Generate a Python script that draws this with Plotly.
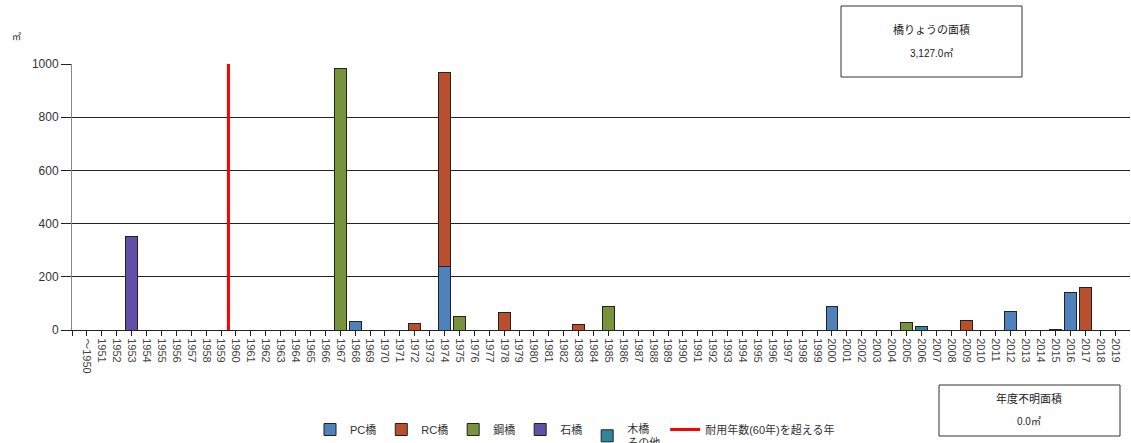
import plotly.graph_objects as go

# Fiscal-year categories
years = ["～1950"] + [str(y) for y in range(1951, 2020)]

# Deck area (㎡) by construction year and bridge type
pc_area = {"1968": 31, "1974": 237, "2000": 87, "2012": 71, "2015": 3, "2016": 140}
rc_area = {"1972": 25, "1974": 732, "1978": 67, "1983": 21, "2009": 36, "2017": 161}
steel_area = {"1967": 983, "1975": 50, "1985": 87, "2005": 30}
stone_area = {"1953": 352}
wood_other_area = {"2006": 14}

unknown_year_area = 0.0
service_life_year = "1960"  # first year past the 60-year service life

series = [
    ("PC橋", pc_area, "#4f81bd"),
    ("RC橋", rc_area, "#b8502d"),
    ("鋼橋", steel_area, "#77933c"),
    ("石橋", stone_area, "#6050a8"),
    ("木橋<br>その他", wood_other_area, "#31859c"),
]

idx = list(range(len(years)))
fig = go.Figure()
total = 0.0
for name, data, color in series:
    vals = [data.get(y, 0) for y in years]
    total += sum(vals)
    fig.add_trace(go.Bar(
        x=idx, y=vals, name=name,
        marker=dict(color=color, line=dict(color="#222222", width=1)),
    ))

# Red boundary line for the service-life limit
xline = years.index(service_life_year) - 0.5
fig.add_trace(go.Scatter(
    x=[xline, xline], y=[0, 1000], mode="lines", name="耐用年数(60年)を超える年",
    line=dict(color="#ff0000", width=3), cliponaxis=False,
))

L, R, T, B = 72, 1, 64, 113
W, H = 1131, 443
pw, ph = W - L - R, H - T - B


def px(x):
    return (x - L) / pw


def py(y):
    return (H - B - y) / ph


font = "Liberation Sans, Noto Sans CJK JP, sans-serif"

fig.update_layout(
    width=W, height=H,
    margin=dict(l=L, r=R, t=T, b=B, autoexpand=False),
    barmode="stack", bargap=0.2,
    plot_bgcolor="white", paper_bgcolor="white",
    font=dict(family=font, size=11, color="#333333"),
    showlegend=True,
    legend=dict(
        orientation="h", x=px(575), xanchor="center", y=py(436), yanchor="middle",
        font=dict(size=11, color="#333333"), traceorder="normal",
        itemwidth=30, tracegroupgap=0, bgcolor="rgba(0,0,0,0)",
    ),
    xaxis=dict(
        range=[-1, len(years)], tickmode="array",
        tickvals=[-1] + idx, ticktext=[""] + years,
        tickangle=90, ticks="outside", ticklen=5, tickcolor="#222222",
        showline=True, linecolor="#222222", linewidth=1,
        showgrid=False, zeroline=False, automargin=False,
        tickfont=dict(size=11, color="#444444"),
    ),
    yaxis=dict(
        range=[0, 1000], dtick=200, ticks="outside", ticklen=10, tickcolor="#222222",
        showline=True, linecolor="#888888", linewidth=1,
        showgrid=True, gridcolor="#222222", gridwidth=1, zeroline=False,
        automargin=False, tickfont=dict(size=12, color="#333333"),
    ),
)

# Summary boxes
def text_note(x, y, text, size):
    fig.add_annotation(xref="paper", yref="paper", x=px(x), y=py(y), showarrow=False,
                       xanchor="center", yanchor="middle", text=text,
                       font=dict(size=size, color="#222222"))


fig.add_shape(type="rect", xref="paper", yref="paper",
              x0=px(841), x1=px(1022), y0=py(77), y1=py(6),
              line=dict(color="#333333", width=1), fillcolor="white", layer="above")
text_note(931, 30, "橋りょうの面積", 11)
text_note(931, 53, f"{total:,.1f}㎡", 10)

fig.add_shape(type="rect", xref="paper", yref="paper",
              x0=px(939), x1=px(1120), y0=py(436), y1=py(385),
              line=dict(color="#333333", width=1), fillcolor="white", layer="above")
text_note(1029, 398, "年度不明面積", 11)
text_note(1029, 421, f"{unknown_year_area:.1f}㎡", 10)

# Unit label
text_note(16, 37, "㎡", 9)

fig.write_html("out.html")
